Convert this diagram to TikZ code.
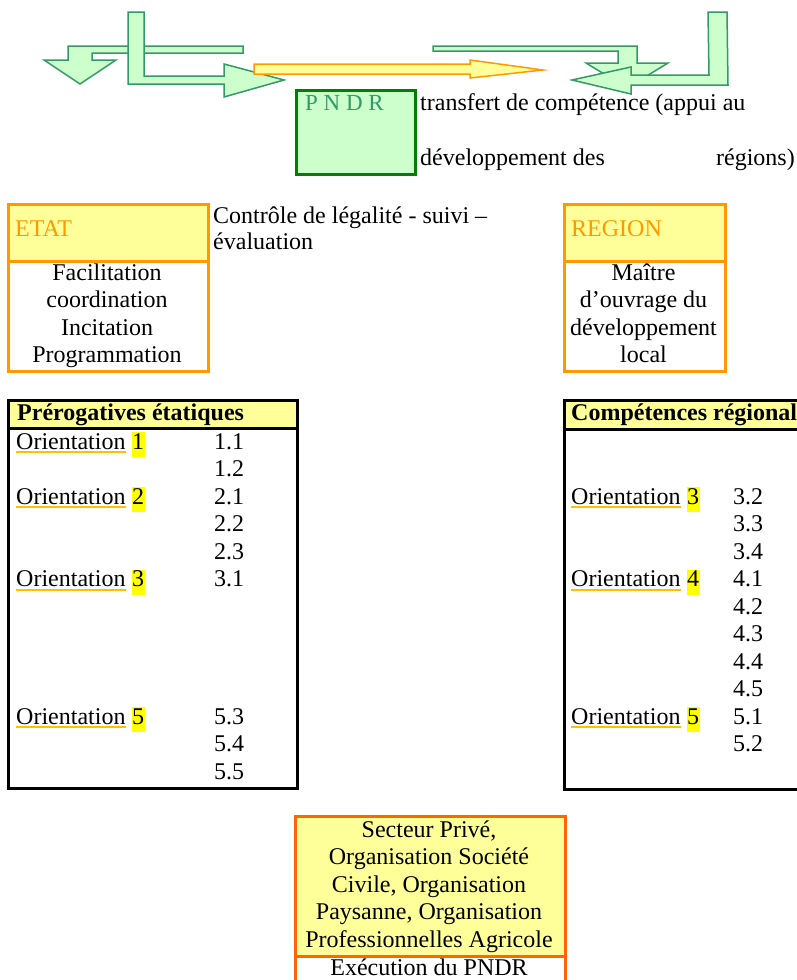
\documentclass[tikz,border=0pt]{standalone}
\usepackage{fontspec}
\setmainfont{Liberation Serif}
\definecolor{arrowline}{HTML}{339966}
\definecolor{arrowfill}{HTML}{CCFFCC}
\definecolor{pndrline}{HTML}{008000}
\definecolor{orangeline}{HTML}{FF9900}
\definecolor{redorange}{HTML}{FF6600}
\definecolor{lightyellow}{HTML}{FFFF99}
\definecolor{hiyellow}{HTML}{FFFF00}
\definecolor{ulinegold}{HTML}{FFC000}

\begin{document}
\begin{tikzpicture}[x=1pt, y=-1pt, font=\fontsize{24}{27.6}\selectfont]
\tikzstyle{greenarrow} = [draw=arrowline, fill=arrowfill, line width=1.5pt]
\tikzstyle{orangearrow} = [draw=orangeline, fill=lightyellow, line width=1.5pt]
\tikzstyle{pndrbox} = [rectangle, draw=pndrline, fill=arrowfill, line width=2.5pt, anchor=north west]
\tikzstyle{hdrbox} = [rectangle, draw=orangeline, fill=lightyellow, line width=3pt, anchor=north west]
\tikzstyle{bodybox} = [rectangle, draw=orangeline, fill=white, line width=3pt, anchor=north west]
\tikzstyle{tabbox} = [rectangle, draw=black, fill=white, line width=3pt, anchor=north west]
\tikzstyle{tabhdr} = [rectangle, draw=black, fill=lightyellow, line width=3pt, anchor=north west]
\tikzstyle{txt} = [anchor=base west, inner sep=0pt]
\tikzstyle{ctxt} = [anchor=base, inner sep=0pt]
\tikzstyle{boldtxt} = [anchor=base west, inner sep=0pt, font=\fontsize{24}{27.6}\selectfont\bfseries]
\tikzstyle{hl} = [anchor=base west, fill=hiyellow, inner xsep=0.5pt, inner ysep=0pt, text height=17pt, text depth=8pt]
\tikzstyle{uline} = [draw=ulinegold, line width=2pt]
\useasboundingbox (0,0) rectangle (797,980);
\clip (0,0) rectangle (797,980);

% block arrows at the top
\draw [greenarrow] (243,46) -- (68,46) -- (68,60) -- (44,60) -- (80,84) -- (116,60) -- (92,60) -- (92,53) -- (243,53) -- cycle;
\draw [greenarrow] (128,12) -- (144,12) -- (144,76) -- (224,76) -- (224,64) -- (284,80) -- (224,97) -- (224,84) -- (128,84) -- cycle;
\draw [orangearrow] (254,64) -- (470,64) -- (470,60) -- (543,70) -- (470,78) -- (470,74) -- (254,74) -- cycle;
\draw [greenarrow] (433,46) -- (637,46) -- (637,63) -- (668,63) -- (627,88) -- (586,63) -- (618,63) -- (618,51) -- (433,51) -- cycle;
\draw [greenarrow] (708,12) -- (727,12) -- (728,85) -- (631,85) -- (631,94) -- (572,80) -- (631,67) -- (631,75) -- (709,75) -- cycle;

\path
    (295,89) node[pndrbox, minimum width=119pt, minimum height=84pt] (pndr) {}
    (305,110) node[txt, text=arrowline, font=\fontsize{23}{26}\selectfont] (pndrlbl) {P N D R}
    (420,110) node[txt] (transfert) {transfert de compétence (appui au}
    (420,165) node[txt] (devdes) {développement des}
    (795,165) node[anchor=base east, inner sep=0pt] (regions) {régions)};

% ETAT and REGION
\path
    (7,260) node[bodybox, minimum width=200pt, minimum height=110pt] (etatbody) {}
    (7,203) node[hdrbox, minimum width=200pt, minimum height=57pt] (etat) {}
    (563,260) node[bodybox, minimum width=161pt, minimum height=110pt] (regionbody) {}
    (563,203) node[hdrbox, minimum width=161pt, minimum height=57pt] (region) {};
\path
    (15,236) node[txt, text=orangeline] (etatlbl) {ETAT}
    (107,280) node[ctxt] (facil) {Facilitation}
    (107,307.6) node[ctxt] (coord) {coordination}
    (107,335.2) node[ctxt] (incit) {Incitation}
    (107,362.8) node[ctxt] (progr) {Programmation}
    (213,223) node[txt] (controle) {Contrôle de légalité - suivi –}
    (213,249) node[txt] (evaluation) {évaluation}
    (571,236) node[txt, text=orangeline] (regionlbl) {REGION}
    (643.5,280) node[ctxt] (maitre) {Maître}
    (643.5,307.6) node[ctxt] (ouvrage) {d’ouvrage du}
    (643.5,335.2) node[ctxt] (devel) {développement}
    (643.5,362.8) node[ctxt] (local) {local};

% tables
\path
    (7,399) node[tabbox, minimum width=289pt, minimum height=388pt] (prerog) {}
    (7,399) node[tabhdr, minimum width=289pt, minimum height=28pt] (preroghdr) {}
    (563,399) node[tabbox, minimum width=267pt, minimum height=389pt] (compet) {}
    (563,399) node[tabhdr, minimum width=267pt, minimum height=29pt] (compethdr) {}
    (17,420) node[boldtxt] (prerogtxt) {Prérogatives étatiques}
    (571,420) node[boldtxt] (competxt) {Compétences régional};

\path
    (16,449) node[txt] (or1) {Orientation}
    (131.5,449) node[hl] (or1n) {1}
    (16,504) node[txt] (or2) {Orientation}
    (131.5,504) node[hl] (or2n) {2}
    (16,586.5) node[txt] (or3) {Orientation}
    (131.5,586.5) node[hl] (or3n) {3}
    (16,724) node[txt] (or5) {Orientation}
    (131.5,724) node[hl] (or5n) {5}
    (214,449) node[txt] (n11) {1.1}
    (214,476.5) node[txt] (n12) {1.2}
    (214,504) node[txt] (n21) {2.1}
    (214,531.5) node[txt] (n22) {2.2}
    (214,559) node[txt] (n23) {2.3}
    (214,586.5) node[txt] (n31) {3.1}
    (214,724) node[txt] (n53) {5.3}
    (214,751.5) node[txt] (n54) {5.4}
    (214,779) node[txt] (n55) {5.5};

\path
    (571,504) node[txt] (ror3) {Orientation}
    (686.5,504) node[hl] (ror3n) {3}
    (571,586.5) node[txt] (ror4) {Orientation}
    (686.5,586.5) node[hl] (ror4n) {4}
    (571,724) node[txt] (ror5) {Orientation}
    (686.5,724) node[hl] (ror5n) {5}
    (733,504) node[txt] (r32) {3.2}
    (733,531.5) node[txt] (r33) {3.3}
    (733,559) node[txt] (r34) {3.4}
    (733,586.5) node[txt] (r41) {4.1}
    (733,614) node[txt] (r42) {4.2}
    (733,641.5) node[txt] (r43) {4.3}
    (733,669) node[txt] (r44) {4.4}
    (733,696.5) node[txt] (r45) {4.5}
    (733,724) node[txt] (r51) {5.1}
    (733,751.5) node[txt] (r52) {5.2};

\draw [uline] ([yshift=-3pt]or1.base west) -- ([yshift=-3pt]or1.base east);
\draw [uline] ([yshift=-3pt]or2.base west) -- ([yshift=-3pt]or2.base east);
\draw [uline] ([yshift=-3pt]or3.base west) -- ([yshift=-3pt]or3.base east);
\draw [uline] ([yshift=-3pt]or5.base west) -- ([yshift=-3pt]or5.base east);
\draw [uline] ([yshift=-3pt]ror3.base west) -- ([yshift=-3pt]ror3.base east);
\draw [uline] ([yshift=-3pt]ror4.base west) -- ([yshift=-3pt]ror4.base east);
\draw [uline] ([yshift=-3pt]ror5.base west) -- ([yshift=-3pt]ror5.base east);

% actors box at the bottom
\path
    (294,955) node[bodybox, draw=redorange, minimum width=270pt, minimum height=45pt] (execbox) {}
    (294,815) node[hdrbox, draw=redorange, minimum width=270pt, minimum height=140pt] (acteurs) {}
    (429,837) node[ctxt] (act1) {Secteur Privé,}
    (429,864.5) node[ctxt] (act2) {Organisation Société}
    (429,892) node[ctxt] (act3) {Civile, Organisation}
    (429,919.5) node[ctxt] (act4) {Paysanne, Organisation}
    (429,947) node[ctxt] (act5) {Professionnelles Agricole}
    (429,975) node[ctxt] (execution) {Exécution du PNDR};
\end{tikzpicture}
\end{document}
